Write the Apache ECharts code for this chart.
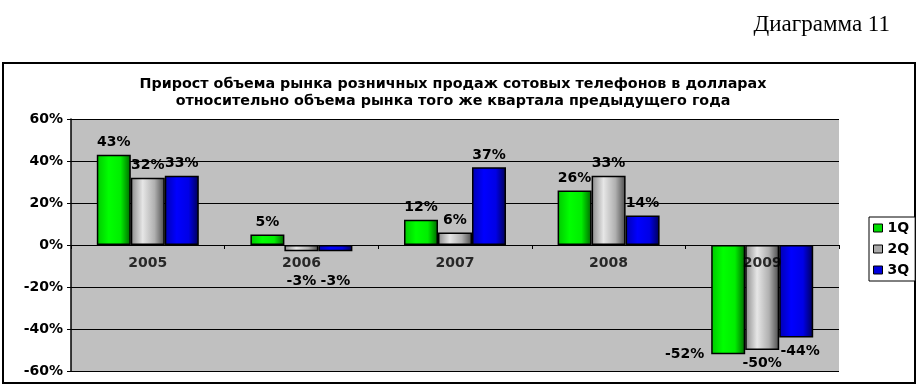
<!DOCTYPE html>
<html><head><meta charset="utf-8">
<script src="https://cdn.jsdelivr.net/npm/echarts@6/dist/echarts.min.js"></script>
<style>html,body{margin:0;padding:0;background:#fff}#c{width:919px;height:387px}</style>
</head><body><div id="c"></div>
<script>
const categories = ['2005','2006','2007','2008','2009'];
const q1 = [43, 5, 12, 26, -52];
const q2 = [32, -3, 6, 33, -50];
const q3 = [33, -3, 37, 14, -44];
const seriesNames = ['1Q','2Q','3Q'];
const yTicks = {min:-60, max:60, interval:20};

function grad(c0,c1,c2,c3){
  return new echarts.graphic.LinearGradient(0,0,1,0,[
    {offset:0,color:c0},{offset:0.35,color:c1},{offset:0.7,color:c2},{offset:1,color:c3}]);
}
const colors = [
  grad('#00c800','#00ff00','#00ee00','#006600'),
  grad('#8a8a8a','#e6e6e6','#b0b0b0','#4a4a4a'),
  grad('#0000b0','#0000ff','#0000e6','#000055')
];
const legendColors = ['#00dd00','#aaaaaa','#0000dd'];
const labelFont = {fontFamily:'DejaVu Sans', fontWeight:'bold', fontSize:14, color:'#000'};

// per-label placement tweaks (style only)
const labelTweaks = {
  '1-1': {distance:23}, '2-1': {distance:23},
  '0-4': {position:'left', offset:[-2,55]},
  '1-4': {distance:6},
  '2-4': {distance:7, offset:[4,0]}
};
function mkData(vals, si){
  return vals.map((v,i)=>{
    const t = labelTweaks[si+'-'+i] || {};
    return {value:v, label:Object.assign({position: v<0?'bottom':'top', distance:5}, t)};
  });
}
const all = [q1,q2,q3];
const series = all.map((vals,si)=>({
  name: seriesNames[si], type:'bar', data: mkData(vals,si),
  barWidth: 34, barGap:'0%',
  itemStyle:{color:colors[si], borderColor:'#000', borderWidth:1.5},
  label:Object.assign({show:true, formatter:p=>p.value+'%'}, labelFont),
  z:3
}));
// category names drawn at the zero line
series.push({
  name:'cats', type:'scatter', data:categories.map(()=>0), symbolSize:0, z:10, silent:true,
  label:Object.assign({show:true, position:'bottom', distance:11, formatter:p=>categories[p.dataIndex]}, labelFont)
});

const chart = echarts.init(document.getElementById('c'), null, {renderer:'canvas'});
chart.setOption({
  animation:false,
  backgroundColor:'#fff',
  title:[{
    text:'Прирост объема рынка розничных продаж сотовых телефонов в долларах\nотносительно объема рынка того же квартала предыдущего года',
    left:448, top:71, textAlign:'center',
    textStyle:{fontFamily:'DejaVu Sans', fontWeight:'bold', fontSize:14.3, lineHeight:17, color:'#000'}
  },{
    text:'Диаграмма 11', right:24, top:8,
    textStyle:{fontFamily:'Liberation Serif', fontWeight:'normal', fontSize:23, color:'#000'}
  }],
  graphic:[{type:'rect', shape:{x:3,y:63,width:912,height:320}, style:{fill:'none', stroke:'#000', lineWidth:2}, z:-1}],
  legend:{
    data:seriesNames.map((n,i)=>({name:n, itemStyle:{color:legendColors[i], borderColor:'#000', borderWidth:1}})),
    orient:'vertical', left:869, top:217,
    icon:'rect', itemWidth:9, itemHeight:8, itemGap:7,
    padding:[4,6,4,4], borderColor:'#000', borderWidth:1, backgroundColor:'#fff',
    textStyle:{fontFamily:'DejaVu Sans', fontWeight:'bold', fontSize:14, color:'#000'}
  },
  grid:{left:71, right:80, top:119, bottom:16, show:true, backgroundColor:'#c0c0c0', borderWidth:0, outerBoundsMode:'none', containLabel:false},
  xAxis:{
    type:'category', data:categories, z:10,
    axisLine:{onZero:true, lineStyle:{color:'#000', width:1}},
    axisTick:{show:true, alignWithLabel:false, inside:false, length:4, lineStyle:{color:'#000'}},
    axisLabel:{show:false},
    splitLine:{show:false}
  },
  yAxis:{
    type:'value', min:yTicks.min, max:yTicks.max, interval:yTicks.interval,
    axisLine:{show:true, lineStyle:{color:'#000', width:1.5}},
    axisTick:{show:true, length:4, lineStyle:{color:'#000'}},
    axisLabel:Object.assign({formatter:'{value}%', margin:8}, labelFont),
    splitLine:{show:true, lineStyle:{color:'#000', width:1}}
  },
  series: series
});
</script></body></html>
